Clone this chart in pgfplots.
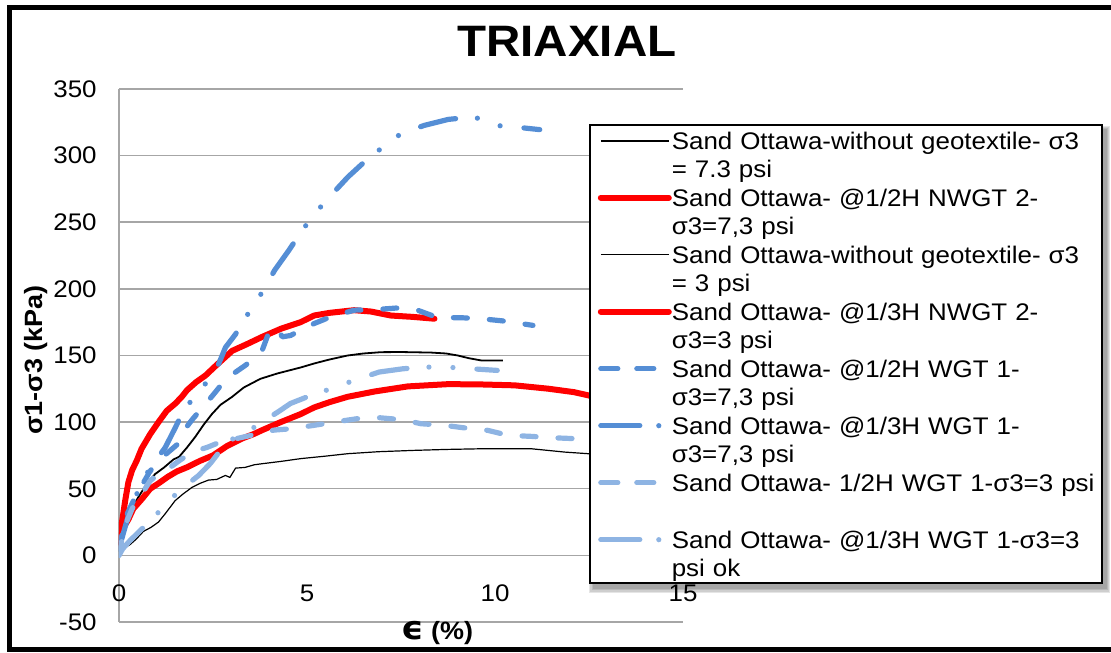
\documentclass[border=0pt]{standalone}
\usepackage{pgfplots}
\pgfplotsset{compat=1.18}
\usepackage{fontspec}
\setmainfont{Liberation Sans}[FakeStretch=1.08]
\newfontfamily\epsfont{DejaVu Sans}[FakeStretch=1.08]

\pgfdeclarelayer{background}
\pgfsetlayers{background,main}

\definecolor{gridgray}{RGB}{166,166,166}
\definecolor{darkblue}{RGB}{85,142,213}
\definecolor{lightblue}{RGB}{142,180,227}

% series line styles (1px = 0.5pt)
\tikzset{
  blackthick/.style={black, line width=0.9pt, line join=round},
  blackthin/.style={black, line width=0.6pt, line join=round},
  redline/.style={red, line width=3pt, line join=round, line cap=round},
  dashed blue/.style={line width=2.6pt, line cap=round, line join=round,
    dash pattern=on 7pt off 11pt},
  dashdot blue/.style={line width=2.6pt, line cap=round, line join=round,
    dash pattern=on 18pt off 11pt on 0pt off 12pt on 0pt off 12pt},
}

\begin{document}
\begin{tikzpicture}
\begin{axis}[
  at={(0pt,0pt)}, anchor=south west,
  scale only axis, width=282pt, height=266.5pt,
  xmin=0, xmax=15, ymin=-50, ymax=350,
  xtick={0,5,10,15}, ytick={-50,0,50,100,150,200,250,300,350},
  axis lines=left,
  axis line style={draw=gridgray, line width=0.75pt, -},
  ymajorgrids, grid style={draw=gridgray, line width=0.75pt},
  major tick length=0pt,
  tick label style={font=\fontsize{12}{14}\selectfont},
  /pgf/number format/assume math mode=true,
  xticklabel style={anchor=center, yshift=14.5pt},
  yticklabel style={anchor=east, inner sep=0pt, xshift=-11pt},
  title={TRIAXIAL},
  title style={at={(axis description cs:0.794,1.066)}, anchor=center,
    font=\fontsize{22}{26}\selectfont\bfseries},
  xlabel={{\epsfont\bfseries\scalebox{1.3}{ϵ}} (\%)},
  xlabel style={at={(axis description cs:0.564,-0.021)}, anchor=center,
    font=\fontsize{12.5}{14}\selectfont\bfseries},
  ylabel={σ1-σ3 (kPa)},
  ylabel style={at={(axis description cs:-0.147,0.492)}, anchor=center,
    font=\fontsize{12.5}{14}\selectfont\bfseries},
  legend style={
    name=leg,
    at={(axis description cs:0.833,0.934)}, anchor=north west,
    draw=black, line width=1pt, fill=white,
    inner xsep=4pt, inner ysep=3.5pt,
    row sep=6pt, column sep=0pt,
    cells={anchor=base west},
    nodes={inner sep=0pt, text width=211pt, align=left,
      text height=8.5pt, text depth=14pt,
      font=\fontsize{12}{14.25}\selectfont},
  },
  legend image code/.code={%
    \path (0pt,4.25pt) -- (34pt,4.25pt);
    \draw[#1] (1.5pt,4.25pt) -- (30.5pt,4.25pt);},
]

% without geotextile, sigma3 = 7.3 psi
\addplot[blackthick] coordinates {
 (0,8) (0.15,22) (0.3,33) (0.52,44) (0.75,54) (0.96,61) (1.2,66) (1.45,72)
 (1.6,74) (1.81,81) (2.03,89) (2.25,98) (2.47,106) (2.7,113) (3.01,119)
 (3.32,126) (3.76,132.5) (4.21,136.5) (4.83,141) (5.19,144) (5.6,147)
 (6.08,150) (6.5,151.5) (6.97,152.5) (7.5,152.6) (8.3,152.2) (8.7,151.5)
 (9.01,150) (9.3,148) (9.63,146.3) (10.21,146.3)};
\addlegendentry{Sand Ottawa-without geotextile- σ3\\= 7.3 psi}

% 1/2H NWGT 2, sigma3 = 7.3 psi
\addplot[redline] coordinates {
 (0,10) (0.08,25) (0.17,42) (0.25,55) (0.35,64) (0.47,71) (0.6,80) (0.83,91)
 (1.05,100) (1.27,108.5) (1.5,114) (1.67,119) (1.81,124) (2.05,130) (2.3,135)
 (2.6,143) (3.01,153.5) (3.4,158.5) (3.81,164) (4.3,170) (4.83,175) (5.19,180)
 (5.6,182) (6.25,184) (6.7,183) (7.23,180) (7.8,179) (8.39,177.6)};
\addlegendentry{Sand Ottawa- @1/2H NWGT 2-\\σ3=7,3 psi}

% without geotextile, sigma3 = 3 psi
\addplot[blackthin] coordinates {
 (0,3) (0.1,5) (0.29,8) (0.45,12) (0.65,18) (0.85,21) (1.05,25) (1.25,32)
 (1.49,41) (1.7,46) (1.94,51) (2.15,54) (2.38,56.5) (2.6,57) (2.83,60)
 (2.95,58.5) (3.1,65.5) (3.35,66) (3.6,68) (3.81,68.8) (4.3,70.5) (4.83,72.6)
 (5.5,74.5) (6.08,76.3) (6.9,77.8) (7.85,78.8) (8.7,79.5) (9.63,80)
 (10.97,80) (11.86,77.5) (12.48,76.3) (13,75)};
\addlegendentry{Sand Ottawa-without geotextile- σ3\\= 3 psi}

% 1/3H NWGT 2, sigma3 = 3 psi
\addplot[redline] coordinates {
 (0,9) (0.12,21) (0.25,27) (0.38,35) (0.6,42) (0.83,50) (1.05,54) (1.3,59)
 (1.54,63) (1.8,66) (2.16,71) (2.5,75) (2.87,82) (3.01,84) (3.3,88) (3.58,91)
 (3.81,94) (4.3,100) (4.83,106) (5.19,111) (5.6,115) (6.08,119) (6.8,123)
 (7.68,126.8) (8.75,128.5) (9.6,128.3) (10.52,127.6) (11.41,125.1)
 (12.1,122.5) (12.48,120.1) (13,116)};
\addlegendentry{Sand Ottawa- @1/3H NWGT 2-\\σ3=3 psi}

% 1/2H WGT 1, sigma3 = 7.3 psi
\addplot[darkblue, dashed blue] coordinates {
 (0,5) (0.1,18) (0.2,30) (0.4,42) (0.6,52) (0.8,62) (1.0,70) (1.25,76)
 (1.54,83) (1.76,95) (1.95,102) (2.16,109) (2.52,121) (2.72,128) (2.92,134)
 (3.36,142.6) (3.6,148) (3.81,154) (3.98,167) (4.21,171) (4.34,164)
 (4.56,165) (4.9,170) (5.19,174) (5.63,179) (6.25,184) (6.79,184.4)
 (7.37,185.6) (7.94,184) (8.48,178.4) (9.06,178.4) (9.63,177.6)
 (10.26,175.8) (11.01,172.6)};
\addlegendentry{Sand Ottawa- @1/2H WGT 1-\\σ3=7,3 psi}

% 1/3H WGT 1, sigma3 = 7.3 psi
\addplot[darkblue, dashdot blue] coordinates {
 (0,5) (0.15,20) (0.3,35) (0.52,49) (0.83,66) (1.0,72) (1.23,81) (1.5,96)
 (1.72,109) (1.95,117) (2.16,124) (2.56,138) (2.7,147) (2.83,156) (3.1,166)
 (3.3,176) (3.5,184) (3.81,197.6) (4.14,214) (4.52,229) (4.85,243)
 (5.19,256) (5.63,270) (6.09,284) (6.57,296.4) (7.0,306) (7.5,316.5)
 (8.12,322.7) (8.76,327.2) (9.41,329) (9.81,326) (10.17,322) (10.52,321.5)
 (11.19,319.5)};
\addlegendentry{Sand Ottawa- @1/3H WGT 1-\\σ3=7,3 psi}

% 1/2H WGT 1, sigma3 = 3 psi
\addplot[lightblue, dashed blue] coordinates {
 (0,0) (0.08,12) (0.2,25) (0.35,35) (0.56,44) (0.83,56) (1.1,62) (1.36,66)
 (1.6,71) (1.81,75) (2.1,79) (2.34,81) (2.6,84) (2.87,86) (3.5,90)
 (4.12,94) (4.56,95) (5.19,97.6) (5.72,100) (6.34,102.6) (6.92,103.3)
 (7.54,101.8) (8.03,98.8) (8.66,97.6) (9.15,95.8) (9.81,93.8) (10.35,90.1)
 (10.97,89.3) (11.5,88.3) (12.12,87.6) (12.48,86.3) (13,85)};
\addlegendentry{\mbox{Sand Ottawa- 1/2H WGT 1-σ3=3 psi}}

% 1/3H WGT 1, sigma3 = 3 psi
\addplot[lightblue, dashdot blue] coordinates {
 (0,0) (0.1,5) (0.29,11) (0.65,21) (0.9,28) (1.14,35) (1.4,42) (1.58,48.8)
 (1.85,54) (2.12,60) (2.43,69) (2.87,85) (3.2,90) (3.48,94) (3.75,99)
 (4.03,104) (4.3,109) (4.56,114) (5.1,120) (5.63,125) (6.3,131.8)
 (6.92,137.6) (7.54,140) (8.1,141.3) (8.7,141.3) (9.41,140) (10.06,138.8)};
\addlegendentry{Sand Ottawa- @1/3H WGT 1-σ3=3\\psi ok}

\end{axis}

% soft shadow under the legend box
\begin{pgfonlayer}{background}
  \foreach \s in {0,0.6,1.2,1.8} {
    \fill[black, opacity=0.1]
      ([xshift=2pt-\s pt, yshift=-2.5pt-\s pt]leg.south west)
      rectangle ([xshift=2pt+\s pt, yshift=-2.5pt+\s pt]leg.north east);
  }
\end{pgfonlayer}

% chart frame
\draw[line width=2.5pt] (498.5pt,307.25pt) -- (-54.75pt,307.25pt)
  -- (-54.75pt,-13.75pt) -- (498.5pt,-13.75pt);

\pgfresetboundingbox
\path[use as bounding box] (-59.5pt,-15pt) rectangle (496pt,311pt);
\end{tikzpicture}
\end{document}
